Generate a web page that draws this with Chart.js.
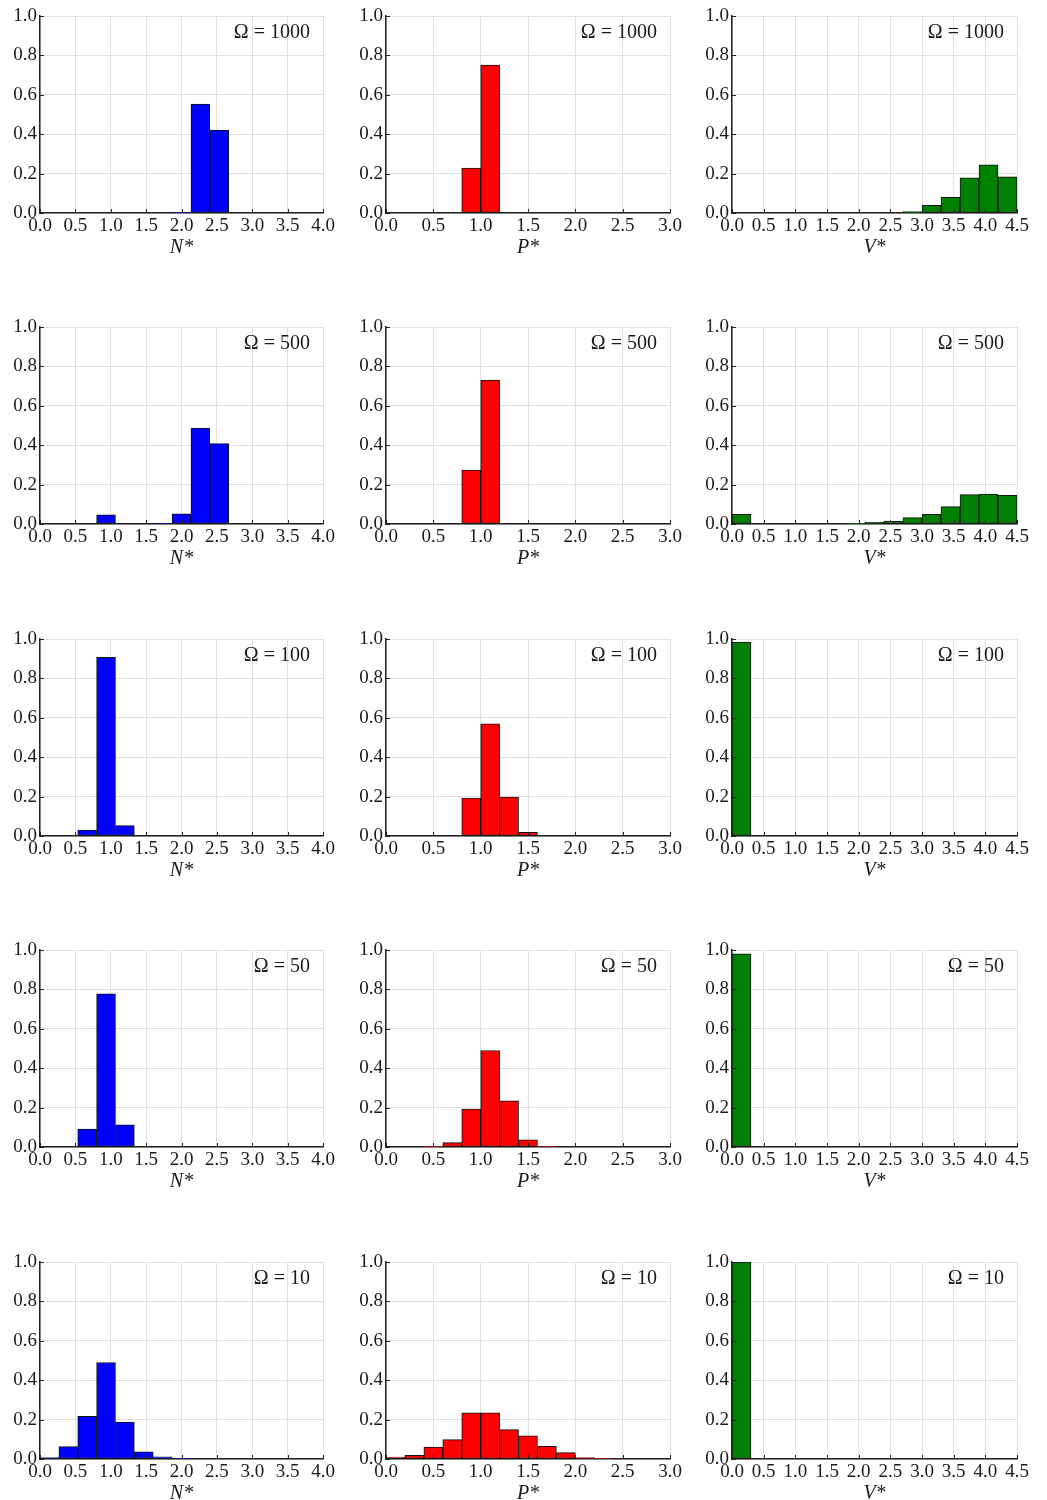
<!DOCTYPE html>
<html>
<head>
<meta charset="utf-8">
<script src="https://cdn.jsdelivr.net/npm/chart.js@4.4.1/dist/chart.umd.min.js"></script>
<style>
  body { margin: 0; background: #fff; }
  #wrap { position: relative; width: 1047px; height: 1500px; }
  #wrap canvas { position: absolute; }
</style>
</head>
<body>
<div id="wrap"></div>
<script>
// histogram fractions, 15 bins per variable
var omegas = [1000, 500, 100, 50, 10];
var nRange = 4.0, pRange = 3.0, vRange = 4.5;

var nOmega1000 = [0, 0, 0, 0, 0, 0, 0, 0.004, 0.553, 0.421, 0, 0, 0, 0, 0];
var nOmega500  = [0, 0, 0, 0.046, 0, 0, 0.003, 0.051, 0.487, 0.408, 0, 0, 0, 0, 0];
var nOmega100  = [0, 0, 0.03, 0.907, 0.053, 0, 0, 0, 0, 0, 0, 0, 0, 0, 0];
var nOmega50   = [0, 0, 0.091, 0.777, 0.112, 0, 0, 0, 0, 0, 0, 0, 0, 0, 0];
var nOmega10   = [0.007, 0.063, 0.217, 0.49, 0.188, 0.037, 0.011, 0.002, 0, 0, 0, 0, 0, 0, 0];

var pOmega1000 = [0, 0, 0, 0, 0.228, 0.751, 0, 0, 0, 0, 0, 0, 0, 0, 0];
var pOmega500  = [0, 0, 0, 0, 0.274, 0.731, 0, 0, 0, 0, 0, 0, 0, 0, 0];
var pOmega100  = [0, 0, 0, 0, 0.193, 0.569, 0.198, 0.018, 0, 0, 0, 0, 0, 0, 0];
var pOmega50   = [0, 0, 0.002, 0.022, 0.193, 0.49, 0.235, 0.037, 0.002, 0, 0, 0, 0, 0, 0];
var pOmega10   = [0.01, 0.019, 0.061, 0.098, 0.234, 0.234, 0.149, 0.117, 0.064, 0.032, 0.007, 0.004, 0, 0, 0];

var vOmega1000 = [0, 0, 0, 0, 0, 0, 0, 0, 0, 0.007, 0.039, 0.08, 0.178, 0.244, 0.183];
var vOmega500  = [0.049, 0, 0, 0, 0, 0, 0.002, 0.008, 0.015, 0.032, 0.049, 0.088, 0.149, 0.152, 0.146];
var vOmega100  = [0.985, 0, 0, 0, 0, 0, 0, 0, 0, 0, 0, 0, 0, 0, 0];
var vOmega50   = [0.98, 0, 0, 0, 0, 0, 0, 0, 0, 0, 0, 0, 0, 0, 0];
var vOmega10   = [1.0, 0, 0, 0, 0, 0, 0, 0, 0, 0, 0, 0, 0, 0, 0];

var yTicks = [0, 0.2, 0.4, 0.6, 0.8, 1.0];

var columns = [
    { label: 'N', range: nRange, color: '#0000ff', rows: [nOmega1000, nOmega500, nOmega100, nOmega50, nOmega10] },
    { label: 'P', range: pRange, color: '#ff0000', rows: [pOmega1000, pOmega500, pOmega100, pOmega50, pOmega10] },
    { label: 'V', range: vRange, color: '#008000', rows: [vOmega1000, vOmega500, vOmega100, vOmega50, vOmega10] }
];

var colLeft = [0, 346, 692];
var colWidth = [347, 348, 349];
var rowTop = [0, 311, 623, 934, 1246];

Chart.defaults.font.family = '"Liberation Serif", "Times New Roman", serif';
Chart.defaults.font.size = 19;
Chart.defaults.color = '#1a1a1a';

// Omega label in the top right corner of the plot area
var omegaLabel = {
    id: 'omegaLabel',
    afterDraw: function(chart, args, opts) {
        var ctx = chart.ctx, area = chart.chartArea;
        ctx.save();
        ctx.font = '20px "Liberation Serif", serif';
        ctx.fillStyle = '#1a1a1a';
        ctx.textAlign = 'right';
        ctx.textBaseline = 'middle';
        ctx.fillText('\u03A9 = ' + opts.omega, area.right - 13, area.top + 17);
        ctx.restore();
    }
};

// short tick marks pointing into the plot, like the original
var innerTicks = {
    id: 'innerTicks',
    afterDatasetsDraw: function(chart) {
        var ctx = chart.ctx, area = chart.chartArea;
        var xs = chart.scales.x, ys = chart.scales.y;
        ctx.save();
        ctx.strokeStyle = '#222';
        ctx.lineWidth = 1;
        ctx.beginPath();
        xs.ticks.forEach(function(t) {
            var px = Math.round(xs.getPixelForValue(t.value)) + 0.5;
            ctx.moveTo(px, area.bottom);
            ctx.lineTo(px, area.bottom - 4);
        });
        ys.ticks.forEach(function(t) {
            var py = Math.round(ys.getPixelForValue(t.value)) + 0.5;
            ctx.moveTo(area.left, py);
            ctx.lineTo(area.left + 4, py);
        });
        ctx.stroke();
        ctx.restore();
    }
};

function binPoints(values, range) {
    var w = range / values.length;
    return values.map(function(v, i) {
        return { x: (i + 0.5) * w, y: v };
    });
}

function makeHist(col, r) {
    var c = columns[col];
    var canvas = document.createElement('canvas');
    canvas.width = colWidth[col];
    canvas.height = 300;
    canvas.style.left = colLeft[col] + 'px';
    canvas.style.top = rowTop[r] + 'px';
    document.getElementById('wrap').appendChild(canvas);

    new Chart(canvas.getContext('2d'), {
        type: 'bar',
        data: {
            datasets: [{
                data: binPoints(c.rows[r], c.range),
                backgroundColor: c.color,
                borderColor: '#111',
                borderWidth: 1,
                borderSkipped: false,
                barPercentage: 1.0,
                categoryPercentage: 1.0
            }]
        },
        options: {
            responsive: false,
            animation: false,
            events: [],
            layout: { padding: { top: 16, right: 24, bottom: 40, left: 0 } },
            plugins: {
                legend: { display: false },
                tooltip: { enabled: false },
                omegaLabel: { omega: omegas[r] }
            },
            scales: {
                x: {
                    type: 'linear',
                    min: 0,
                    max: c.range,
                    offset: false,
                    grid: { color: '#e0e0e0', drawTicks: false, offset: false },
                    border: { color: '#222', width: 1.5 },
                    ticks: {
                        stepSize: 0.5,
                        padding: 2,
                        autoSkip: false,
                        maxRotation: 0,
                        callback: function(v) { return v.toFixed(1); }
                    },
                    title: {
                        display: true,
                        text: c.label + '*',
                        font: { size: 20, style: 'italic' },
                        padding: 0
                    },
                    afterFit: function(scale) { scale.height = 47; }
                },
                y: {
                    min: 0,
                    max: 1,
                    grid: { color: '#e0e0e0', drawTicks: false },
                    border: { color: '#222', width: 1.5 },
                    afterBuildTicks: function(scale) {
                        scale.ticks = yTicks.map(function(v) { return { value: v }; });
                    },
                    ticks: {
                        padding: 3,
                        callback: function(v) { return v.toFixed(1); }
                    },
                    afterFit: function(scale) { scale.width = 40; }
                }
            }
        },
        plugins: [omegaLabel, innerTicks]
    });
}

for (var r = 0; r < omegas.length; r++) {
    for (var col = 0; col < columns.length; col++) {
        makeHist(col, r);
    }
}
</script>
</body>
</html>
